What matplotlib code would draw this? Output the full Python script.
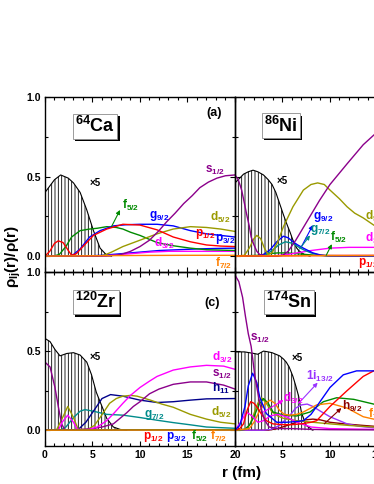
import matplotlib
matplotlib.use('Agg')
import matplotlib.pyplot as plt
import matplotlib.patheffects as pe
from matplotlib.ticker import MultipleLocator

plt.rcParams['font.family'] = ['Liberation Sans', 'DejaVu Sans']
plt.rcParams['font.weight'] = 'bold'
plt.rcParams['mathtext.fontset'] = 'custom'
plt.rcParams['mathtext.rm'] = 'Liberation Sans:bold'
plt.rcParams['mathtext.it'] = 'Liberation Sans:bold'
plt.rcParams['mathtext.bf'] = 'Liberation Sans:bold'
plt.rcParams['mathtext.default'] = 'regular'
plt.rcParams['hatch.linewidth'] = 0.6

# colours
RED = '#ff0000'
BLUE = '#0000ff'
GREEN = '#008a00'
OLIVE = '#9a9a00'
MAGENTA = '#ff00ff'
PURPLE = '#8b008b'
ORANGE = '#ff8000'
TEAL = '#008b8b'
NAVY = '#00008b'
VIOLET = '#9933ff'
DARKRED = '#8b0000'

# ---------------- (a) 64Ca ----------------
ca_tot_r = [0, 0.5, 1.0, 1.65, 2.45, 3.0, 3.7, 4.4, 5.1, 5.8, 6.5, 7.0]
ca_tot = [0.40, 0.44, 0.48, 0.51, 0.49, 0.46, 0.40, 0.29, 0.16, 0.05, 0.005, 0]
ca_p12_r = [0, 0.5, 1.0, 1.4, 1.9, 2.4, 2.8, 3.3, 4.0, 5.1, 6.5, 8.2, 10, 11.8, 13.5, 15.3, 17, 18.5, 20]
ca_p12 = [0, 0.03, 0.08, 0.096, 0.085, 0.04, 0.005, 0.015, 0.06, 0.13, 0.17, 0.20, 0.195, 0.165, 0.12, 0.09, 0.07, 0.063, 0.06]
ca_f52_r = [0, 1.0, 1.5, 2.2, 2.8, 3.7, 4.7, 5.5, 6.5, 7.5, 8.2, 9, 10, 11, 11.8, 13.5, 15.3, 17, 20]
ca_f52 = [0, 0.002, 0.01, 0.06, 0.12, 0.16, 0.17, 0.175, 0.185, 0.18, 0.17, 0.15, 0.13, 0.105, 0.085, 0.065, 0.05, 0.04, 0.035]
ca_g92_r = [0, 2.5, 3.0, 3.7, 4.7, 5.8, 7.2, 8.5, 10, 11.8, 13.5, 15.3, 17, 18.5, 20]
ca_g92 = [0, 0, 0.01, 0.045, 0.12, 0.16, 0.19, 0.197, 0.20, 0.20, 0.19, 0.16, 0.14, 0.13, 0.12]
ca_p32_r = [0, 4, 6, 8, 10, 12, 14, 16, 18, 20]
ca_p32 = [0, 0, 0.005, 0.015, 0.025, 0.035, 0.04, 0.045, 0.048, 0.05]
ca_d32_r = [0, 5, 7, 9, 11, 13, 15, 17, 20]
ca_d32 = [0, 0, 0.005, 0.015, 0.025, 0.03, 0.03, 0.03, 0.03]
ca_d52_r = [0, 5.5, 6.2, 7, 8.2, 10, 11.8, 13.5, 15.3, 17, 18.5, 20]
ca_d52 = [0, 0, 0.005, 0.025, 0.06, 0.10, 0.14, 0.17, 0.185, 0.18, 0.17, 0.155]
ca_s12_r = [0, 6.5, 8, 9, 10, 11, 12, 12.8, 13.7, 14.6, 15.5, 16.3, 17.2, 18.1, 19, 20]
ca_s12 = [0, 0, 0.01, 0.03, 0.06, 0.10, 0.16, 0.215, 0.27, 0.33, 0.38, 0.43, 0.465, 0.49, 0.505, 0.51]
ca_f72_r = [0, 5, 10, 15, 20]
ca_f72 = [0, 0.002, 0.004, 0.005, 0.005]

# ---------------- (b) 86Ni ----------------
ni_tot_r = [0, 0.5, 0.9, 1.4, 1.9, 2.4, 3.0, 3.5, 3.9, 4.3, 4.7, 5.1, 5.4, 5.8, 6.1, 6.5, 6.8, 7.3, 7.9]
ni_tot = [0.46, 0.49, 0.515, 0.53, 0.54, 0.53, 0.51, 0.48, 0.45, 0.40, 0.33, 0.26, 0.21, 0.15, 0.10, 0.05, 0.03, 0.01, 0]
ni_s12_r = [0, 0.35, 0.7, 1.0, 1.2, 1.5, 1.7, 2.0, 2.3, 2.6, 3.5, 4.5, 5.0, 5.6, 6.4, 7.5, 8.9, 10, 11.8, 13.5, 14.6, 16]
ni_s12 = [0.51, 0.48, 0.415, 0.33, 0.27, 0.19, 0.12, 0.07, 0.03, 0.01, 0, 0, 0.005, 0.03, 0.10, 0.21, 0.35, 0.45, 0.58, 0.70, 0.76, 0.83]
ni_d52_r = [0, 1.0, 1.5, 2.0, 2.3, 2.7, 3.1, 3.5, 3.9, 4.5, 5.1, 6.1, 7.2, 8.0, 8.7, 9.4, 10, 11, 11.8, 12.6, 13.5, 14.6, 16]
ni_d52 = [0, 0.005, 0.05, 0.11, 0.13, 0.11, 0.05, 0.01, 0.02, 0.09, 0.185, 0.31, 0.415, 0.45, 0.46, 0.45, 0.415, 0.36, 0.31, 0.27, 0.24, 0.195, 0.15]
ni_g92_r = [0, 2.2, 3.0, 3.7, 4.4, 5.1, 5.6, 6.1, 6.6, 7.2, 8.2, 9.0, 9.7, 12, 16]
ni_g92 = [0, 0, 0.01, 0.04, 0.09, 0.125, 0.115, 0.09, 0.07, 0.05, 0.02, 0.007, 0.002, 0, 0]
ni_g72_r = [0, 2.6, 3.3, 4.0, 4.6, 5.3, 6.1, 6.6, 7.2, 8, 9, 10, 16]
ni_g72 = [0, 0, 0.01, 0.04, 0.07, 0.09, 0.08, 0.06, 0.04, 0.02, 0.005, 0, 0]
ni_f52_r = [0, 2.5, 3.5, 4.5, 5.5, 6.5, 7.5, 8.5, 10, 13, 16]
ni_f52 = [0, 0.005, 0.015, 0.02, 0.02, 0.015, 0.01, 0.005, 0.003, 0.002, 0.002]
ni_d32_r = [0, 3.5, 4.5, 5.5, 6.5, 8, 10, 12, 14.6, 16]
ni_d32 = [0, 0, 0.004, 0.01, 0.02, 0.035, 0.05, 0.055, 0.055, 0.055]
ni_p12_r = [0, 5, 10, 16]
ni_p12 = [0, 0.002, 0.004, 0.005]
ni_f72_r = [0, 5, 10, 16]
ni_f72 = [0, 0.002, 0.003, 0.003]

# ---------------- (c) 120Zr ----------------
zr_tot_r = [0, 0.53, 1.05, 1.58, 2.3, 3.0, 3.7, 4.4, 4.9, 5.4, 6.0, 6.5, 7.2, 7.9, 8.6]
zr_tot = [0.58, 0.56, 0.51, 0.47, 0.485, 0.49, 0.475, 0.43, 0.35, 0.24, 0.15, 0.074, 0.02, 0.005, 0]
zr_s12_r = [0, 0.53, 1.05, 1.4, 1.75, 2.1, 3, 4, 5, 6, 7.2, 8.6, 9.3, 10, 11, 12, 13.5, 15.3, 17, 18.8, 20]
zr_s12 = [0.43, 0.40, 0.27, 0.15, 0.04, 0, 0, 0.005, 0.01, 0.02, 0.04, 0.11, 0.15, 0.18, 0.23, 0.26, 0.29, 0.305, 0.305, 0.285, 0.26]
zr_d32_r = [0, 1.4, 1.8, 2.4, 3.0, 3.4, 4.5, 5.5, 6.5, 7.3, 8.2, 9, 10, 11, 11.8, 13.5, 15.3, 17, 18.8, 20]
zr_d32 = [0, 0, 0.05, 0.095, 0.05, 0.005, 0.003, 0.02, 0.06, 0.11, 0.17, 0.22, 0.27, 0.31, 0.34, 0.38, 0.40, 0.41, 0.405, 0.385]
zr_d52_r = [0, 1.2, 1.7, 2.4, 3.0, 3.5, 4.5, 5.2, 5.8, 6.8, 7.5, 8.2, 9, 9.7, 11.1, 12.3, 13.5, 15.3, 17, 18.5, 20]
zr_d52 = [0, 0, 0.06, 0.15, 0.08, 0.005, 0.005, 0.03, 0.08, 0.17, 0.20, 0.215, 0.22, 0.215, 0.19, 0.165, 0.145, 0.10, 0.07, 0.05, 0.04]
zr_h11_r = [0, 3.0, 3.6, 4.3, 5.1, 6.0, 6.9, 8.2, 10, 11.8, 13.5, 15.3, 17, 20]
zr_h11 = [0, 0, 0.01, 0.05, 0.12, 0.20, 0.225, 0.215, 0.19, 0.175, 0.18, 0.19, 0.198, 0.20]
zr_g72_r = [0, 1.6, 2.2, 3.0, 3.7, 4.2, 5.1, 6.5, 8.2, 10, 11.8, 13.5, 15.3, 17, 20]
zr_g72 = [0, 0, 0.02, 0.08, 0.12, 0.13, 0.12, 0.10, 0.095, 0.08, 0.063, 0.048, 0.034, 0.02, 0.012]
zr_small_r = [0, 5, 10, 15, 20]
zr_p12 = [0, 0.002, 0.003, 0.003, 0.003]
zr_p32 = [0, 0.002, 0.003, 0.003, 0.003]
zr_f52 = [0, 0.001, 0.002, 0.002, 0.002]
zr_f72 = [0, 0.001, 0.001, 0.001, 0.001]

# ---------------- (d) 174Sn ----------------
sn_tot_r = [0, 0.5, 1.0, 1.5, 2.0, 2.4, 3.0, 3.5, 3.9, 4.3, 4.7, 5.1, 5.4, 5.7, 6.1, 6.4, 6.7, 7.0, 7.5, 8.2]
sn_tot = [0.495, 0.495, 0.495, 0.49, 0.485, 0.48, 0.50, 0.495, 0.49, 0.48, 0.47, 0.45, 0.43, 0.40, 0.34, 0.28, 0.215, 0.11, 0.03, 0]
sn_s12_r = [0, 0.4, 0.8, 1.1, 1.4, 1.7, 2.1, 2.6, 3.1, 3.6, 4.5, 6, 8, 10, 14.6, 16]
sn_s12 = [0.98, 0.94, 0.84, 0.72, 0.61, 0.53, 0.34, 0.17, 0.065, 0.02, 0.01, 0.01, 0.005, 0.003, 0.002, 0.002]
sn_blue_r = [0, 0.5, 1.05, 1.4, 1.86, 2.3, 2.6, 3.3, 4.4, 5.4, 6.5, 7.2, 8.0, 8.6, 10, 11.4, 12.8, 14.6, 16]
sn_blue = [0, 0.03, 0.15, 0.28, 0.36, 0.30, 0.21, 0.105, 0.05, 0.05, 0.055, 0.06, 0.10, 0.15, 0.27, 0.35, 0.375, 0.375, 0.37]
sn_red_r = [0, 0.5, 0.9, 1.3, 1.65, 2.0, 2.4, 2.8, 3.3, 4.0, 5.0, 6.0, 7.0, 8.0, 8.6, 10, 11.8, 13.5, 14.6, 16]
sn_red = [0, 0.01, 0.04, 0.13, 0.18, 0.17, 0.14, 0.10, 0.06, 0.04, 0.035, 0.035, 0.04, 0.05, 0.06, 0.15, 0.25, 0.34, 0.375, 0.40]
sn_green_r = [0, 1.0, 1.5, 2.0, 2.5, 3.0, 3.5, 4.0, 5.1, 6.5, 7.9, 9.3, 10.7, 12.5, 14.6, 16]
sn_green = [0, 0.005, 0.03, 0.085, 0.16, 0.20, 0.17, 0.115, 0.095, 0.09, 0.115, 0.18, 0.205, 0.195, 0.165, 0.15]
sn_olive_r = [0, 1.2, 1.6, 2.0, 2.4, 2.8, 3.3, 3.9, 4.5, 5.1, 6.5, 8.2, 10, 12, 14.6, 16]
sn_olive = [0, 0.005, 0.04, 0.105, 0.17, 0.205, 0.17, 0.115, 0.09, 0.075, 0.06, 0.05, 0.04, 0.03, 0.02, 0.02]
sn_orange_r = [0, 1.5, 2.0, 2.6, 3.2, 3.7, 4.2, 4.7, 5.2, 5.8, 6.5, 7.2, 8.6, 10, 11.8, 13.5, 14.6, 16]
sn_orange = [0, 0.01, 0.05, 0.125, 0.17, 0.19, 0.17, 0.125, 0.10, 0.095, 0.10, 0.115, 0.16, 0.17, 0.14, 0.085, 0.07, 0.05]
sn_mag_r = [0, 0.6, 1.2, 1.8, 2.4, 3.0, 3.7, 4.5, 5.4, 6.5, 8, 10, 14.6, 16]
sn_mag = [0, 0.05, 0.115, 0.09, 0.05, 0.06, 0.09, 0.10, 0.085, 0.05, 0.02, 0.01, 0.005, 0.005]
sn_i132_r = [0, 3.0, 3.8, 4.7, 5.8, 6.4, 7.0, 7.6, 8.2, 9, 10, 11, 11.8, 13, 14.6, 16]
sn_i132 = [0, 0, 0.005, 0.03, 0.095, 0.14, 0.16, 0.165, 0.15, 0.12, 0.085, 0.06, 0.04, 0.025, 0.015, 0.01]
sn_h92_r = [0, 3.5, 4.5, 5.5, 6.5, 7.4, 8.2, 9, 10, 11.5, 13.5, 14.6, 16]
sn_h92 = [0, 0, 0.01, 0.03, 0.05, 0.065, 0.07, 0.065, 0.05, 0.04, 0.03, 0.025, 0.02]


def total(ax, r, y):
    ax.fill_between(r, 0, y, facecolor='none', edgecolor='k', hatch='|||||', linewidth=0)
    ax.plot(r, y, color='k', lw=0.8)


def curve(ax, r, y, c):
    ax.plot(r, y, color=c, lw=1.0)


def lab(ax, x, y, main, sub, c):
    ax.text(x, y, main + '$_{' + sub + '}$', color=c, fontsize=8.5,
            ha='left', va='center')


def arrow(ax, x1, y1, x2, y2, c):
    ax.annotate('', xy=(x2, y2), xytext=(x1, y1),
                arrowprops=dict(arrowstyle='-|>', color=c, lw=0.8,
                                mutation_scale=6, shrinkA=0, shrinkB=0))


def nucleus(ax, x, y, mass, name):
    t = ax.text(x, y, '$^{' + mass + '}$' + name, fontsize=13, ha='left', va='center',
                bbox=dict(boxstyle='square,pad=0.12', fc='white', ec='0.55', lw=0.6))
    t.get_bbox_patch().set_path_effects(
        [pe.withSimplePatchShadow(offset=(1.6, -1.6), shadow_rgbFace='k', alpha=1.0)])


def style(ax, left, bottom):
    ax.set_xlim(0, 20)
    ax.set_ylim(-0.1, 1.0)
    ax.set_facecolor('none')
    ax.xaxis.set_major_locator(MultipleLocator(5))
    ax.xaxis.set_minor_locator(MultipleLocator(1))
    ax.yaxis.set_major_locator(MultipleLocator(0.5))
    ax.yaxis.set_minor_locator(MultipleLocator(0.25))
    ax.tick_params(which='both', direction='in', top=True, right=True,
                   width=0.8, labelsize=7.5, pad=3)
    ax.tick_params(which='major', length=3.5)
    ax.tick_params(which='minor', length=2)
    for s in ax.spines.values():
        s.set_linewidth(1.0)
    ax.tick_params(labelleft=left, labelbottom=bottom)
    ax.yaxis.set_major_formatter(plt.FuncFormatter(lambda v, p: f'{v:.1f}'))


fig = plt.figure(figsize=(3.74, 4.84), dpi=100)
W = 0.508
axa = fig.add_axes([0.1203, 0.438, W, 0.3616])
axb = fig.add_axes([0.6283, 0.438, W, 0.3616])
axc = fig.add_axes([0.1203, 0.0785, W, 0.3595])
axd = fig.add_axes([0.6283, 0.0785, W, 0.3595])

style(axa, True, False)
style(axb, False, False)
style(axc, True, True)
style(axd, False, True)
axd.xaxis.set_major_formatter(plt.FuncFormatter(lambda v, p: '' if v == 0 else f'{v:g}'))

# (a)
total(axa, ca_tot_r, ca_tot)
curve(axa, ca_p32_r, ca_p32, BLUE)
curve(axa, ca_d32_r, ca_d32, MAGENTA)
curve(axa, ca_f52_r, ca_f52, GREEN)
curve(axa, ca_g92_r, ca_g92, BLUE)
curve(axa, ca_d52_r, ca_d52, OLIVE)
curve(axa, ca_p12_r, ca_p12, RED)
curve(axa, ca_s12_r, ca_s12, PURPLE)
curve(axa, ca_f72_r, ca_f72, ORANGE)
lab(axa, 16.8, 0.54, 's', '1/2', PURPLE)
lab(axa, 8.1, 0.32, 'f', '5/2', GREEN)
arrow(axa, 7.0, 0.185, 7.9, 0.29, GREEN)
lab(axa, 11.0, 0.25, 'g', '9/2', BLUE)
lab(axa, 17.4, 0.24, 'd', '5/2', OLIVE)
lab(axa, 15.8, 0.14, 'p', '1/2', RED)
lab(axa, 17.9, 0.11, 'p', '3/2', BLUE)
lab(axa, 11.5, 0.08, 'd', '3/2', MAGENTA)
lab(axa, 17.9, -0.045, 'f', '7/2', ORANGE)
axa.text(4.7, 0.46, '×5', fontsize=7, ha='left', va='center')
axa.text(17.0, 0.9, '(a)', fontsize=9, ha='left', va='center')
nucleus(axa, 3.2, 0.815, '64', 'Ca')

# (b)
total(axb, ni_tot_r, ni_tot)
curve(axb, ni_f52_r, ni_f52, GREEN)
curve(axb, ni_d32_r, ni_d32, MAGENTA)
curve(axb, ni_g72_r, ni_g72, TEAL)
curve(axb, ni_g92_r, ni_g92, BLUE)
curve(axb, ni_d52_r, ni_d52, OLIVE)
curve(axb, ni_s12_r, ni_s12, PURPLE)
curve(axb, ni_p12_r, ni_p12, RED)
curve(axb, ni_f72_r, ni_f72, ORANGE)
lab(axb, 8.2, 0.245, 'g', '9/2', BLUE)
arrow(axb, 7.0, 0.06, 8.2, 0.195, BLUE)
lab(axb, 7.9, 0.165, 'g', '7/2', TEAL)
arrow(axb, 6.8, 0.045, 7.9, 0.13, TEAL)
lab(axb, 10.0, 0.12, 'f', '5/2', GREEN)
arrow(axb, 9.6, 0.005, 10.2, 0.075, GREEN)
lab(axb, 13.7, 0.25, 'd', '5/2', OLIVE)
lab(axb, 13.7, 0.11, 'd', '3/2', MAGENTA)
lab(axb, 13.0, -0.045, 'p', '1/2', RED)
axb.text(4.4, 0.47, '×5', fontsize=7, ha='left', va='center')
axb.text(17.0, 0.9, '(b)', fontsize=9, ha='left', va='center')
nucleus(axb, 3.1, 0.82, '86', 'Ni')

# (c)
total(axc, zr_tot_r, zr_tot)
curve(axc, zr_g72_r, zr_g72, TEAL)
curve(axc, zr_h11_r, zr_h11, NAVY)
curve(axc, zr_d52_r, zr_d52, OLIVE)
curve(axc, zr_s12_r, zr_s12, PURPLE)
curve(axc, zr_d32_r, zr_d32, MAGENTA)
curve(axc, zr_small_r, zr_p12, RED)
curve(axc, zr_small_r, zr_p32, BLUE)
curve(axc, zr_small_r, zr_f52, GREEN)
curve(axc, zr_small_r, zr_f72, ORANGE)
lab(axc, 17.6, 0.46, 'd', '3/2', MAGENTA)
lab(axc, 17.6, 0.35, 's', '1/2', PURPLE)
lab(axc, 17.6, 0.265, 'h', '11', NAVY)
lab(axc, 10.4, 0.095, 'g', '7/2', TEAL)
lab(axc, 17.5, 0.11, 'd', '5/2', OLIVE)
lab(axc, 10.3, -0.04, 'p', '1/2', RED)
lab(axc, 12.7, -0.04, 'p', '3/2', BLUE)
lab(axc, 15.4, -0.04, 'f', '5/2', GREEN)
lab(axc, 17.4, -0.04, 'f', '7/2', ORANGE)
axc.text(4.7, 0.46, '×5', fontsize=7, ha='left', va='center')
axc.text(16.8, 0.805, '(c)', fontsize=9, ha='left', va='center')
nucleus(axc, 3.2, 0.81, '120', 'Zr')

# (d)
total(axd, sn_tot_r, sn_tot)
curve(axd, sn_h92_r, sn_h92, DARKRED)
curve(axd, sn_i132_r, sn_i132, VIOLET)
curve(axd, sn_olive_r, sn_olive, OLIVE)
curve(axd, sn_green_r, sn_green, GREEN)
curve(axd, sn_orange_r, sn_orange, ORANGE)
curve(axd, sn_mag_r, sn_mag, MAGENTA)
curve(axd, sn_red_r, sn_red, RED)
curve(axd, sn_blue_r, sn_blue, BLUE)
curve(axd, sn_s12_r, sn_s12, PURPLE)
lab(axd, 1.6, 0.58, 's', '1/2', PURPLE)
lab(axd, 7.5, 0.34, '1i', '13/2', VIOLET)
arrow(axd, 6.7, 0.17, 8.7, 0.30, VIOLET)
lab(axd, 5.1, 0.2, 'd', '3/2', MAGENTA)
arrow(axd, 3.0, 0.115, 5.1, 0.19, MAGENTA)
lab(axd, 11.3, 0.15, 'h', '9/2', DARKRED)
arrow(axd, 9.4, 0.04, 11.2, 0.14, DARKRED)
lab(axd, 14.0, 0.1, 'f', '7/2', ORANGE)
axd.text(6.0, 0.455, '×5', fontsize=7, ha='left', va='center')
axd.text(16.8, 0.805, '(d)', fontsize=9, ha='left', va='center')
nucleus(axd, 3.3, 0.81, '174', 'Sn')

fig.text(0.037, 0.471, 'ρ$_{lj}$(r)/ρ(r)', rotation=90, fontsize=11, ha='center', va='center')
fig.text(0.647, 0.023, 'r (fm)', fontsize=11, ha='center', va='center')

fig.savefig('out.png', dpi=100)
